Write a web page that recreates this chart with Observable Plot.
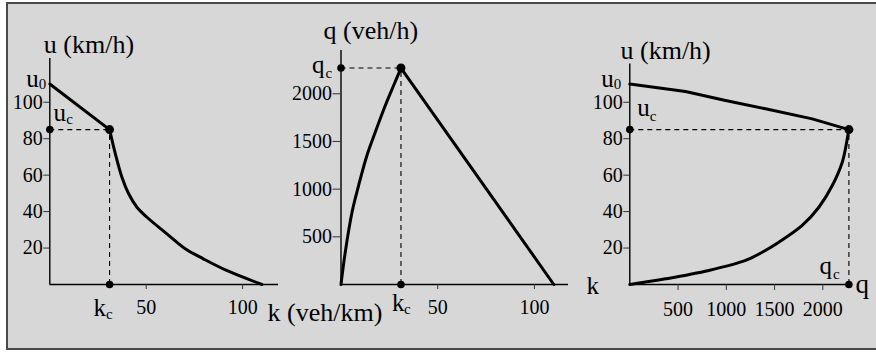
<!DOCTYPE html>
<html>
<head>
<meta charset="utf-8">
<script src="https://cdn.jsdelivr.net/npm/d3@7"></script>
<script src="https://cdn.jsdelivr.net/npm/@observablehq/plot@0.6"></script>
<style>
  html, body { margin: 0; padding: 0; background: #fff; }
  #stage { position: relative; width: 876px; height: 352px; overflow: hidden; }
  #frame { position: absolute; left: 6px; top: 2px; width: 900px; height: 348px; box-sizing: border-box;
           border: 2px solid #4a4a4a; background: #d7d7d7; }
  #stage svg { position: absolute; left: 0; top: 0; overflow: visible; }
</style>
</head>
<body>
<div id="stage"><div id="frame"></div></div>
<script>
// Fundamental diagram of traffic flow: speed–density, flow–density, speed–flow.
const uFree = 110;   // free-flow speed u0 (km/h)
const uCrit = 85;    // critical speed uc (km/h)
const kCrit = 31;    // critical density kc (veh/km)
const kJam = 110;    // jam density (veh/km)
const qCrit = 2270;  // capacity qc (veh/h)

// speed–density curve
const ukDensity = [0, 31, 34, 37.4, 40.9, 45.2, 50.4, 60.7, 70.2, 79.6, 91.7, 110];
const ukSpeed   = [110, 85, 71.7, 58.9, 49.8, 42.4, 36.9, 27.8, 19.6, 14.1, 7.7, 0];

// flow–density curve (uncongested branch, then straight congested branch)
const qkDensity = [0, 2.2, 5.7, 9.1, 13.4, 17.7, 22.9, 27.2, 31, 110];
const qkFlow    = [0, 339, 758, 1038, 1353, 1597, 1877, 2087, 2270, 0];

// speed–flow curve: upper (uncongested) and lower (congested) branches
const uqUpperFlow  = [0, 577, 992, 1406, 1890, 2270];
const uqUpperSpeed = [110, 105.9, 101, 96.4, 90.9, 85];
const uqLowerFlow  = [2270, 2253, 2201, 2098, 1959, 1786, 1544, 1372, 1199, 819, 370, 0];
const uqLowerSpeed = [85, 79.9, 67.1, 54.3, 42.4, 32.4, 23.2, 17.7, 13.2, 7.7, 3.1, 0];

// tick values
const kTicks = [50, 100];
const uTicks = [20, 40, 60, 80, 100];
const qTicks = [500, 1000, 1500, 2000];

const zip = (xs, ys) => xs.map((x, i) => ({x, y: ys[i]}));
const ukRows = zip(ukDensity, ukSpeed);
const qkRows = zip(qkDensity, qkFlow);
const uqUpper = zip(uqUpperFlow, uqUpperSpeed);
const uqLower = zip(uqLowerFlow, uqLowerSpeed);

const FONT = "'Liberation Serif', 'Times New Roman', serif";
const BIG = 25, TITLE = 26, SUB = 15, TICK = 20;

const label = (x, y, text, o = {}) =>
  Plot.text([{x, y, text}], {x: "x", y: "y", text: "text", fill: "#000", lineAnchor: "bottom",
    textAnchor: "start", fontSize: BIG, ...o});

const axisLines = [
  Plot.ruleY([0], {stroke: "#000", strokeWidth: 1.4}),
  Plot.ruleX([0], {stroke: "#000", strokeWidth: 1.4})
];

// tick marks from the axis, tick labels as text marks
const xTicks = (ticks, size, gap) => [
  Plot.axisX({ticks, tickSize: size, stroke: "#333", tickFormat: () => "", label: null}),
  Plot.text(ticks, {x: (d) => d, y: () => 0, text: (d) => `${d}`, dy: size + gap,
    lineAnchor: "top", fontSize: TICK, fill: "#000"})
];
const yTicks = (ticks, size, gap) => [
  Plot.axisY({ticks, tickSize: size, stroke: "#333", tickFormat: () => "", label: null}),
  Plot.text(ticks, {x: () => 0, y: (d) => d, text: (d) => `${d}`, dx: -(size + gap),
    textAnchor: "end", fontSize: TICK, fill: "#000"})
];

const dash = {stroke: "#000", strokeWidth: 1.1, strokeDasharray: "5,4"};
const curve = {stroke: "#000", strokeWidth: 3, strokeLinejoin: "round", strokeLinecap: "round"};

function panel({x0, x1, xDomain, yTop, yDomain, marks}) {
  return Plot.plot({
    width: 876, height: 352,
    marginLeft: x0, marginRight: 876 - x1, marginTop: yTop, marginBottom: 352 - 284,
    x: {domain: xDomain, label: null},
    y: {domain: yDomain, label: null},
    style: {background: "transparent", fontFamily: FONT, fontSize: "20px", color: "#000", overflow: "visible"},
    marks
  });
}

// Speed vs density
const p1 = panel({
  x0: 49.3, x1: 278, xDomain: [0, 118.6], yTop: 58, yDomain: [0, 124],
  marks: [
    ...axisLines,
    ...xTicks(kTicks, 5, 10),
    ...yTicks(uTicks, 6, 1),
    Plot.ruleY([uCrit], {x1: 0, x2: kCrit, ...dash}),
    Plot.ruleX([kCrit], {y1: 0, y2: uCrit, ...dash}),
    Plot.line(ukRows.slice(0, 2), {x: "x", y: "y", ...curve}),
    Plot.line(ukRows.slice(1), {x: "x", y: "y", curve: "catmull-rom", ...curve}),
    Plot.dot([{x: 0, y: uCrit}, {x: kCrit, y: 0}], {x: "x", y: "y", r: 3.8, fill: "#000"}),
    Plot.dot([{x: kCrit, y: uCrit}], {x: "x", y: "y", r: 4.5, fill: "#000"}),
    label(0, 124, "u (km/h)", {dx: -6, dy: -6, fontSize: TITLE}),
    label(0, uFree, "u", {textAnchor: "end", dx: -11, dy: 3}),
    label(0, uFree, "0", {dx: -11, dy: 5, fontSize: SUB}),
    label(0, uCrit, "u", {dx: 3.7, dy: -9}),
    label(0, uCrit, "c", {dx: 16.5, dy: -6, fontSize: SUB}),
    label(kCrit, 0, "k", {dx: -16, dy: 31}),
    label(kCrit, 0, "c", {dx: -3.5, dy: 34, fontSize: SUB}),
    label(118.6, 0, "k (veh/km)", {dx: -11, dy: 36, fontSize: TITLE})
  ]
});

// Flow vs density
const p2 = panel({
  x0: 340.5, x1: 568, xDomain: [0, 117.6], yTop: 50, yDomain: [0, 2454],
  marks: [
    ...axisLines,
    ...xTicks(kTicks, 5, 10),
    ...yTicks(qTicks, 8, 1),
    Plot.ruleY([qCrit], {x1: 0, x2: kCrit, ...dash}),
    Plot.ruleX([kCrit], {y1: 0, y2: qCrit, ...dash}),
    Plot.line(qkRows.slice(0, -1), {x: "x", y: "y", curve: "catmull-rom", ...curve}),
    Plot.line(qkRows.slice(-2), {x: "x", y: "y", ...curve}),
    Plot.dot([{x: 0, y: qCrit}, {x: kCrit, y: 0}], {x: "x", y: "y", r: 3.8, fill: "#000"}),
    Plot.dot([{x: kCrit, y: qCrit}], {x: "x", y: "y", r: 4.5, fill: "#000"}),
    label(0, 2454, "q (veh/h)", {dx: -17.5, dy: -12, fontSize: TITLE}),
    label(0, qCrit, "q", {dx: -29, dy: 4.5}),
    label(0, qCrit, "c", {dx: -15.5, dy: 9.5, fontSize: SUB}),
    label(kCrit, 0, "k", {dx: -9, dy: 26}),
    label(kCrit, 0, "c", {dx: 3, dy: 29, fontSize: SUB}),
    label(117.6, 0, "k", {dx: 18, dy: 9})
  ]
});

// Speed vs flow
const p3 = panel({
  x0: 629.3, x1: 848.4, xDomain: [0, qCrit], yTop: 63.5, yDomain: [0, 121],
  marks: [
    ...axisLines,
    ...xTicks(qTicks, 6, 11),
    ...yTicks(uTicks, 6, 1),
    Plot.ruleY([uCrit], {x1: 0, x2: qCrit, ...dash}),
    Plot.ruleX([qCrit], {y1: 0, y2: uCrit, ...dash}),
    Plot.line(uqUpper, {x: "x", y: "y", ...curve}),
    Plot.line(uqLower, {x: "x", y: "y", curve: "catmull-rom", ...curve}),
    Plot.dot([{x: 0, y: uCrit}, {x: qCrit, y: 0}], {x: "x", y: "y", r: 3.8, fill: "#000"}),
    Plot.dot([{x: qCrit, y: uCrit}], {x: "x", y: "y", r: 4.5, fill: "#000"}),
    label(0, 121, "u (km/h)", {dx: -9.3, dy: -5.5, fontSize: TITLE}),
    label(0, uFree, "u", {textAnchor: "end", dx: -16, dy: 3}),
    label(0, uFree, "0", {dx: -16, dy: 5, fontSize: SUB}),
    label(0, uCrit, "u", {dx: 7.4, dy: -14}),
    label(0, uCrit, "c", {dx: 20, dy: -9, fontSize: SUB}),
    label(qCrit, 0, "q", {dx: -29.4, dy: -11}),
    label(qCrit, 0, "c", {dx: -16, dy: -6, fontSize: SUB}),
    label(qCrit, 0, "q", {dx: 6.6, dy: 8, fontSize: 27})
  ]
});

const stage = document.getElementById("stage");
stage.append(p1, p2, p3);
</script>
</body>
</html>
